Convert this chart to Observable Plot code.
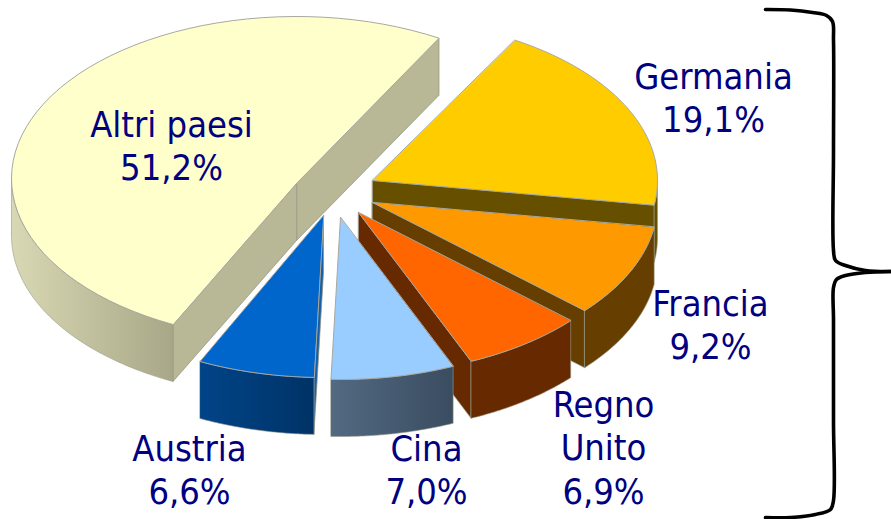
<!DOCTYPE html>
<html>
<head>
<meta charset="utf-8">
<script src="https://cdn.jsdelivr.net/npm/d3@7"></script>
<script src="https://cdn.jsdelivr.net/npm/@observablehq/plot@0.6"></script>
<style>html,body{margin:0;padding:0;background:#fff}svg{display:block}</style>
</head>
<body>
<div id="chart"></div>
<script>
// Data, in the pie's own order (counter-clockwise from the start angle)
const countries = ["Altri paesi", "Austria", "Cina", "Regno Unito", "Francia", "Germania"];
const shares = [51.2, 6.6, 7.0, 6.9, 9.2, 19.1];
const labels = ["Altri paesi\n51,2%", "Austria\n6,6%", "Cina\n7,0%", "Regno\nUnito\n6,9%", "Francia\n9,2%", "Germania\n19,1%"];

// Styling and layout, separate from the values
const topColors = ["#ffffcc", "#0066cc", "#99ccff", "#ff6600", "#ff9900", "#ffcc00"];
const cutColors = ["#b8b896", "#1560a8", "#3a4c60", "#662900", "#663f00", "#665000"];
const wallFrom = ["#d8d8b4", "#004488", "#526a82", "#662900", "#663f00", "#665000"];
const wallTo = ["#a8a888", "#003366", "#3a4c60", "#662900", "#663f00", "#665000"];
const apexX = [296, 323, 340, 358, 372, 372];
const apexY = [183, 215, 217, 212, 202, 180];
const centerLift = [5, 0, 0, 0, 0, 0];
const labelX = [171, 189, 426, 603, 710, 713];
const labelY = [144, 468, 468, 446, 323, 96];
const drawOrder = [0, 5, 4, 3, 1, 2];
const startAngle = 60, rx = 285, ry = 162, depth = 57;

const braceUpperX = [765, 790, 812, 826, 832, 833, 833, 833, 835, 845, 865, 890];
const braceUpperY = [9, 9.5, 12, 15, 21, 40, 150, 250, 260, 265, 270, 271];
const braceLowerX = [890, 865, 845, 836, 833, 833, 833, 833, 830, 815, 790, 765];
const braceLowerY = [271, 272, 275, 279, 287, 320, 420, 500, 509, 514, 517, 517];

// Turn the shares into angular spans
let running = startAngle;
const spans = shares.map((v) => { const a0 = running; running += v * 3.6; return [a0, running]; });

const pt = (i, t, dy = 0) => {
  const r = t * Math.PI / 180;
  return { x: apexX[i] + rx * Math.cos(r), y: apexY[i] - centerLift[i] - ry * Math.sin(r) + dy };
};
const arc = (i, a0, a1, dy = 0) => d3.range(0, 61).map((k) => pt(i, a0 + (a1 - a0) * k / 60, dy));

const ln = (points, fill, stroke, strokeWidth) =>
  Plot.line(points, { x: "x", y: "y", curve: "linear-closed", fill, stroke, strokeWidth });

const cosd = (t) => Math.cos(t * Math.PI / 180);

const sliceMarks = drawOrder.flatMap((i) => {
  const [a0, a1] = spans[i];
  const apex = { x: apexX[i], y: apexY[i] };
  const apexD = { x: apexX[i], y: apexY[i] + depth };
  const face = (t) => [apex, pt(i, t), pt(i, t, depth), apexD];
  const marks = [];
  // only the cut faces turned towards the viewer are drawn
  if (cosd(a0) > 0) marks.push(ln(face(a0), cutColors[i], "#8f8f80", 0.7));
  if (cosd(a1) < 0) marks.push(ln(face(a1), cutColors[i], "#8f8f80", 0.7));
  const v0 = Math.max(a0, 180), v1 = Math.min(a1, 360);
  if (v1 > v0) {
    marks.push(ln([...arc(i, v0, v1), ...arc(i, v1, v0, depth)], `url(#wall${i})`, "#9a9a8a", 0.6));
  }
  marks.push(ln([apex, ...arc(i, a0, a1)], topColors[i], "#a8a8a0", 1));
  return marks;
});

const defs = () => {
  const d = d3.create("svg:defs");
  countries.forEach((_, i) => {
    const g = d.append("linearGradient").attr("id", `wall${i}`).attr("x1", 0).attr("x2", 1).attr("y1", 0).attr("y2", 0);
    g.append("stop").attr("offset", 0).attr("stop-color", wallFrom[i]);
    g.append("stop").attr("offset", 1).attr("stop-color", wallTo[i]);
  });
  return d.node();
};

const labelData = labels.map((text, i) => ({ text, x: labelX[i], y: labelY[i] }));
const brace = [
  ...braceUpperX.map((x, i) => ({ x, y: braceUpperY[i], part: "upper" })),
  ...braceLowerX.map((x, i) => ({ x, y: braceLowerY[i], part: "lower" }))
];

const chart = Plot.plot({
  width: 891,
  height: 519,
  margin: 0,
  style: { background: "#fff", overflow: "visible" },
  x: { domain: [0, 891], range: [0, 891], axis: null },
  y: { domain: [0, 519], range: [0, 519], axis: null },
  marks: [
    defs,
    ...sliceMarks,
    Plot.line(brace, { x: "x", y: "y", z: "part", curve: "catmull-rom", stroke: "#000", strokeWidth: 3.6 }),
    Plot.text(labelData, {
      x: "x", y: "y", text: "text",
      fill: "#000080",
      fontFamily: "'DejaVu Sans Condensed', 'DejaVu Sans', sans-serif",
      fontSize: 36,
      lineHeight: 1.205,
      lineAnchor: "middle"
    })
  ]
});
document.getElementById("chart").append(chart);
</script>
</body>
</html>
